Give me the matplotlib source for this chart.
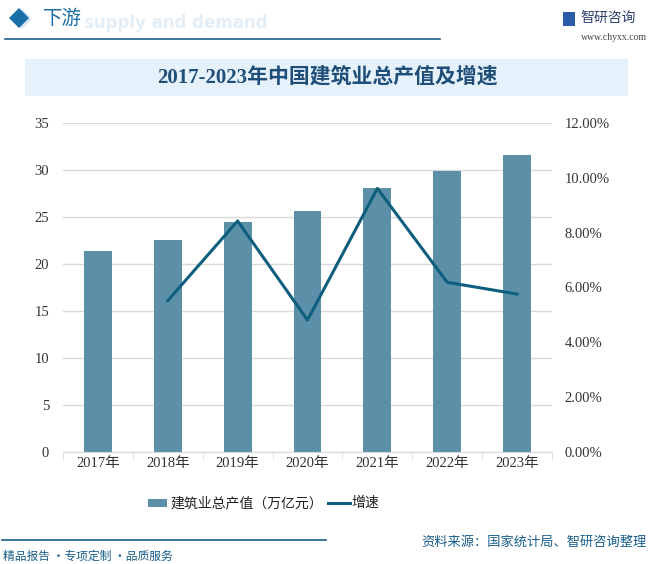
import matplotlib
matplotlib.use("Agg")
import matplotlib.pyplot as plt
from matplotlib.patches import Rectangle, Polygon
from matplotlib.lines import Line2D
from matplotlib.ticker import FuncFormatter

years = ["2017年", "2018年", "2019年", "2020年", "2021年", "2022年", "2023年"]
output_value = [21.4, 22.6, 24.5, 25.6, 28.1, 29.9, 31.6]
growth_years = ["2018年", "2019年", "2020年", "2021年", "2022年", "2023年"]
growth_rate = [0.0552, 0.0843, 0.0481, 0.0962, 0.0619, 0.0576]
left_ticks = [0, 5, 10, 15, 20, 25, 30, 35]
right_ticks = [0, 0.02, 0.04, 0.06, 0.08, 0.10, 0.12]

BAR = "#5B90A8"
LINE = "#0E5F7E"
CJK = ["Noto Sans CJK SC", "DejaVu Sans"]
SERIF = ["Liberation Serif", "Noto Sans CJK SC"]

W, H = 651, 564
fig = plt.figure(figsize=(W / 100, H / 100), dpi=100)
fig.patch.set_facecolor("white")

def fx(x): return x / W
def fy(y): return 1 - y / H

# Header
fig.patches.append(Polygon([[fx(12), fy(19)], [fx(22), fy(9)], [fx(32), fy(19)], [fx(22), fy(29)]],
                           closed=True, transform=fig.transFigure, facecolor="#D6E6F2", edgecolor="none"))
fig.patches.append(Polygon([[fx(9), fy(18)], [fx(19), fy(8)], [fx(29), fy(18)], [fx(19), fy(28)]],
                           closed=True, transform=fig.transFigure, facecolor="#1A6FA8", edgecolor="none"))
fig.text(fx(84), fy(23), "supply and demand", fontsize=12, color="#E3EEF7", fontweight="bold",
         ha="left", va="center", family=["DejaVu Sans"])
fig.text(fx(43), fy(19), "下游", fontsize=14, color="#1A6FA8", ha="left", va="center", family=CJK)
fig.add_artist(Line2D([fx(5), fx(440)], [fy(39), fy(39)], transform=fig.transFigure, color="#1A5F8A", lw=1.2))
# logo
fig.patches.append(Rectangle((fx(563), fy(26)), fx(12), 14 / H, transform=fig.transFigure,
                             facecolor="#2B5BA8", edgecolor="none"))
fig.text(fx(580), fy(18), "智研咨询", fontsize=10, color="#2B3F6B", ha="left", va="center", family=CJK)
fig.text(fx(647), fy(38), "www.chyxx.com", fontsize=7, color="#444444", ha="right", va="center",
         family=["Liberation Serif"])

# Title band
fig.patches.append(Rectangle((fx(25), fy(96)), (628 - 25) / W, 37 / H, transform=fig.transFigure,
                             facecolor="#E6F2FB", edgecolor="none"))
fig.text(fx(327), fy(77), "2017-2023年中国建筑业总产值及增速", fontsize=15, color="#1F4E79",
         fontweight="bold", ha="center", va="center", family=SERIF)

# Axes
ax = fig.add_axes([fx(63), fy(451.7), (552 - 63) / W, (451.7 - 123.3) / H])
x = list(range(len(years)))
ax.bar(x, output_value, width=0.4, color=BAR, zorder=2)
ax.set_ylim(0, 35)
ax.set_xlim(-0.5, len(years) - 0.5)
ax.set_yticks(left_ticks)
ax.yaxis.grid(True, color="#D9D9D9", lw=1)
ax.set_axisbelow(True)
for s in ["top", "right", "left"]:
    ax.spines[s].set_visible(False)
ax.spines["bottom"].set_color("#D9D9D9")
ax.tick_params(axis="y", length=0, labelsize=10.5, colors="#333333", pad=10)
ax.set_xticks(x)
ax.set_xticklabels(years)
ax.tick_params(axis="x", length=0, labelsize=10.5, colors="#333333", pad=4)
ax.set_xticks([i - 0.5 for i in range(len(years) + 1)], minor=True)
ax.tick_params(axis="x", which="minor", length=5, color="#D9D9D9")
for lab in ax.get_xticklabels() + ax.get_yticklabels():
    lab.set_family(SERIF)

ax2 = ax.twinx()
gx = [years.index(y) for y in growth_years]
ax2.plot(gx, growth_rate, color=LINE, lw=2.2, zorder=3)
ax2.set_ylim(0, 0.12)
ax2.set_yticks(right_ticks)
ax2.yaxis.set_major_formatter(FuncFormatter(lambda v, p: f"{v*100:.2f}%"))
for s in ["top", "right", "left", "bottom"]:
    ax2.spines[s].set_visible(False)
ax2.tick_params(axis="y", length=0, labelsize=10.5, colors="#333333", pad=9)
for lab in ax2.get_yticklabels():
    lab.set_family(SERIF)

# Legend
fig.patches.append(Rectangle((fx(148), fy(507)), 19 / W, 8 / H, transform=fig.transFigure,
                             facecolor=BAR, edgecolor="none"))
fig.text(fx(170), fy(503), "建筑业总产值（万亿元）", fontsize=10, color="#222222", ha="left", va="center", family=CJK)
fig.add_artist(Line2D([fx(328), fx(350)], [fy(503), fy(503)], transform=fig.transFigure, color=LINE, lw=2.2))
fig.text(fx(351), fy(503), "增速", fontsize=10, color="#222222", ha="left", va="center", family=CJK)

# Footer
fig.add_artist(Line2D([fx(2), fx(326)], [fy(540), fy(540)], transform=fig.transFigure, color="#1A5F8A", lw=1.2))
fig.text(fx(647), fy(542), "资料来源：国家统计局、智研咨询整理", fontsize=9.5, color="#1A5F8A",
         ha="right", va="center", family=CJK)
fig.text(fx(3), fy(556), "精品报告 ·专项定制 ·品质服务", fontsize=8.5, color="#1A5F8A",
         ha="left", va="center", family=CJK)

fig.savefig("out.png", dpi=100, facecolor="white")
